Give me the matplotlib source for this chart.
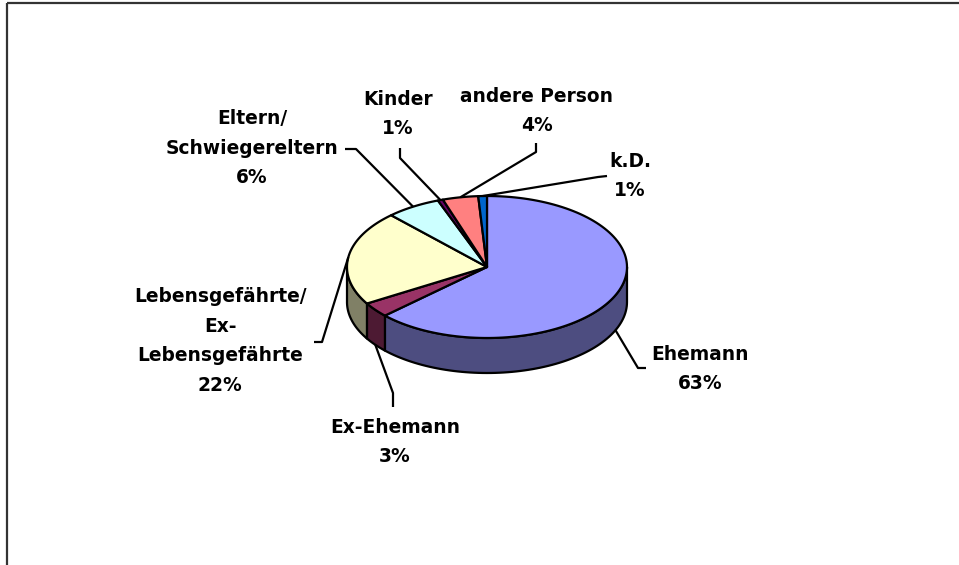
import numpy as np
import matplotlib.pyplot as plt
from matplotlib.patches import Polygon
from matplotlib.colors import to_rgb

# data (shares in %)
labels = ['Ehemann', 'Ex-Ehemann', 'Lebensgefährte/\nEx-\nLebensgefährte',
          'Eltern/\nSchwiegereltern', 'Kinder', 'andere Person', 'k.D.']
shares = [63.0, 3.4, 21.6, 6.3, 0.6, 4.1, 1.0]
top_colors = ['#9999FF', '#993366', '#FFFFCC', '#CCFFFF', '#660066', '#FF8080', '#0066CC']

# label layout: text centre, elbow of leader line, end of leader line (pixels)
text_pos = [(700, 369), (395, 442), (220, 341), (252, 148), (398, 114), (537, 111), (630, 176)]
elbows = [(638, 368), (393, 393), (322, 342), (356, 149), (400, 158), (536, 152), (598, 177)]
ends = [(646, 368), (393, 407), (314, 342), (345, 149), (400, 148), (536, 143), (607, 176)]

# pie geometry in pixels
cx, cy, rx, ry, depth = 487, 267, 140, 71, 35


def pt(t, dz=0):
    # t = degrees clockwise from 12 o'clock
    r = np.radians(t)
    return cx + rx * np.sin(r), cy - ry * np.cos(r) + dz


fig = plt.figure(figsize=(9.59, 5.65), dpi=100)
ax = fig.add_axes([0, 0, 1, 1])
ax.set_xlim(0, 959)
ax.set_ylim(565, 0)
ax.axis('off')

# frame (left and top edge only are visible)
ax.plot([7, 7], [3, 565], color='#333333', lw=1.6, solid_capstyle='butt')
ax.plot([7, 959], [3, 3], color='#333333', lw=1.6, solid_capstyle='butt')

bounds = np.concatenate([[0], np.cumsum(shares)]) * 3.6

# side walls (front half only)
for i in range(len(shares)):
    a = max(bounds[i], 90)
    b = min(bounds[i + 1], 270)
    if a >= b:
        continue
    ts = np.linspace(a, b, 80)
    topx, topy = pt(ts)
    botx, boty = pt(ts[::-1], depth)
    side = np.array(to_rgb(top_colors[i])) * 0.5
    ax.add_patch(Polygon(np.column_stack([np.r_[topx, botx], np.r_[topy, boty]]),
                         closed=True, facecolor=side, edgecolor='black', lw=1.6,
                         joinstyle='round'))

# top faces
for i in range(len(shares)):
    ts = np.linspace(bounds[i], bounds[i + 1], 120)
    x, y = pt(ts)
    ax.add_patch(Polygon(np.column_stack([np.r_[cx, x], np.r_[cy, y]]), closed=True,
                         facecolor=top_colors[i], edgecolor='black', lw=1.6,
                         joinstyle='round'))

# labels with leader lines
for i in range(len(shares)):
    mid = (bounds[i] + bounds[i + 1]) / 2
    dz = depth if 90 < mid < 270 else 0
    ax0, ay0 = pt(mid, dz)
    ax.plot([ax0, elbows[i][0], ends[i][0]], [ay0, elbows[i][1], ends[i][1]],
            color='black', lw=1.6, solid_capstyle='butt')
    ax.text(text_pos[i][0], text_pos[i][1], f'{labels[i]}\n{shares[i]:.0f}%',
            ha='center', va='center', multialignment='center',
            fontsize=13.4, fontweight='bold', family='DejaVu Sans',
            linespacing=1.7, color='black')

fig.savefig('out.png', dpi=100)
